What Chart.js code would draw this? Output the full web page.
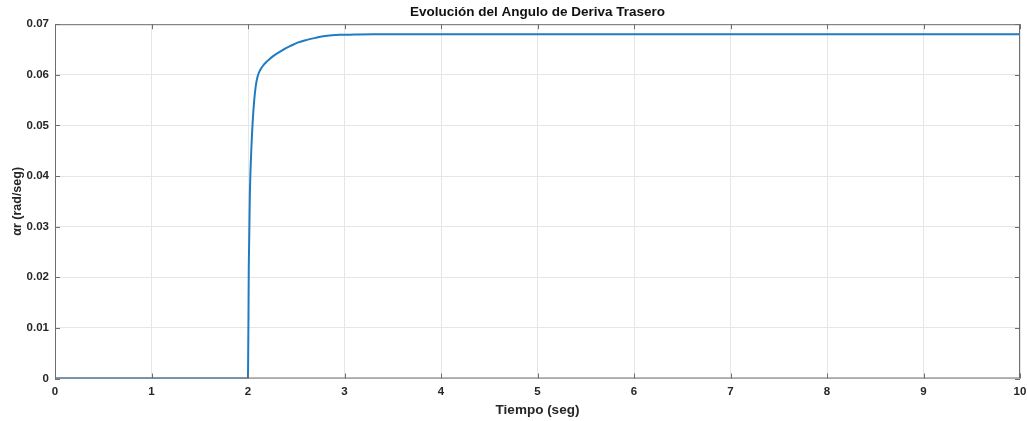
<!DOCTYPE html>
<html>
<head>
<meta charset="utf-8">
<script src="https://cdn.jsdelivr.net/npm/chart.js@4.4.0/dist/chart.umd.min.js"></script>
<style>
  html, body { margin: 0; padding: 0; background: #fff; }
  #wrap { width: 1028px; height: 421px; }
</style>
</head>
<body>
<div id="wrap"><canvas id="alphaChart"></canvas></div>
<script>
// tiempo (s) y angulo de deriva trasero (rad/seg)
const timeSec = [0, 2.0, 2.008, 2.02, 2.035, 2.05, 2.065, 2.08, 2.1, 2.125, 2.16, 2.2, 2.26, 2.35, 2.44, 2.52, 2.61, 2.7, 2.78, 2.87, 2.95, 3.1, 3.3, 3.6, 4.0, 10.0];
const alphaR = [0, 0, 0.022, 0.037, 0.0455, 0.0512, 0.0551, 0.0577, 0.0597, 0.0609, 0.0619, 0.0627, 0.0637, 0.0648, 0.0657, 0.0664, 0.0669, 0.0673, 0.0676, 0.0678, 0.0679, 0.06795, 0.068, 0.068, 0.068, 0.068];

const xTicks = [0, 1, 2, 3, 4, 5, 6, 7, 8, 9, 10];
const yTicks = [0, 0.01, 0.02, 0.03, 0.04, 0.05, 0.06, 0.07];

const axisColor = '#6e6e6e';
const textColor = '#262626';
const fontFamily = '"Liberation Sans", Arial, sans-serif';

// MATLAB-style box with inward tick marks
const boxPlugin = {
    id: 'boxPlugin',
    afterDraw(chart) {
        const { ctx, chartArea: a, scales } = chart;
        const len = 5;
        ctx.save();
        ctx.strokeStyle = axisColor;
        ctx.lineWidth = 1;
        ctx.strokeRect(a.left + 0.5, a.top + 0.5, a.right - a.left - 1, a.bottom - a.top - 1);
        ctx.beginPath();
        xTicks.forEach(v => {
            const x = Math.round(scales.x.getPixelForValue(v)) + 0.5;
            ctx.moveTo(x, a.bottom); ctx.lineTo(x, a.bottom - len);
            ctx.moveTo(x, a.top); ctx.lineTo(x, a.top + len);
        });
        yTicks.forEach(v => {
            const y = Math.round(scales.y.getPixelForValue(v)) + 0.5;
            ctx.moveTo(a.left, y); ctx.lineTo(a.left + len, y);
            ctx.moveTo(a.right, y); ctx.lineTo(a.right - len, y);
        });
        ctx.stroke();
        ctx.restore();
    }
};

const ctx = document.getElementById('alphaChart').getContext('2d');
new Chart(ctx, {
    type: 'line',
    data: {
        datasets: [{
            data: timeSec.map((t, i) => ({ x: t, y: alphaR[i] })),
            borderColor: '#1f7cc4',
            borderWidth: 2,
            pointRadius: 0,
            fill: false,
            cubicInterpolationMode: 'monotone'
        }]
    },
    options: {
        responsive: true,
        maintainAspectRatio: false,
        animation: false,
        layout: { padding: { top: 0, right: 8, left: 0, bottom: 0 } },
        plugins: {
            legend: { display: false },
            tooltip: { enabled: false },
            title: {
                display: true,
                fullSize: false,
                text: 'Evolución del Angulo de Deriva Trasero',
                color: '#111',
                font: { family: fontFamily, size: 13.5, weight: 'bold' },
                padding: { top: 4, bottom: 4 }
            }
        },
        scales: {
            x: {
                type: 'linear',
                min: 0,
                max: 10,
                afterFit: scale => {
                    scale.height = 42.5;
                    scale.paddingLeft = 0;
                    scale.paddingRight = 0;
                },
                afterBuildTicks: scale => { scale.ticks = xTicks.map(v => ({ value: v })); },
                grid: { color: '#e6e6e6', drawTicks: false },
                border: { display: false },
                ticks: {
                    color: textColor,
                    padding: 6,
                    maxRotation: 0,
                    font: { family: fontFamily, size: 11.5, weight: 'bold' }
                },
                title: {
                    display: true,
                    text: 'Tiempo (seg)',
                    color: textColor,
                    font: { family: fontFamily, size: 13.5, weight: 'bold' },
                    padding: { top: 0, bottom: 3 }
                }
            },
            y: {
                min: 0,
                max: 0.07,
                afterFit: scale => {
                    scale.width = 55;
                    scale.paddingTop = 0;
                    scale.paddingBottom = 0;
                },
                afterBuildTicks: scale => { scale.ticks = yTicks.map(v => ({ value: v })); },
                grid: { color: '#e6e6e6', drawTicks: false },
                border: { display: false },
                ticks: {
                    color: textColor,
                    padding: 6,
                    font: { family: fontFamily, size: 11.5, weight: 'bold' },
                    callback: v => String(Math.round(v * 100) / 100)
                },
                title: {
                    display: true,
                    text: 'αr (rad/seg)',
                    color: textColor,
                    font: { family: fontFamily, size: 12.5, weight: 'bold' },
                    padding: { top: 10, bottom: 0 }
                }
            }
        }
    },
    plugins: [boxPlugin]
});
</script>
</body>
</html>
